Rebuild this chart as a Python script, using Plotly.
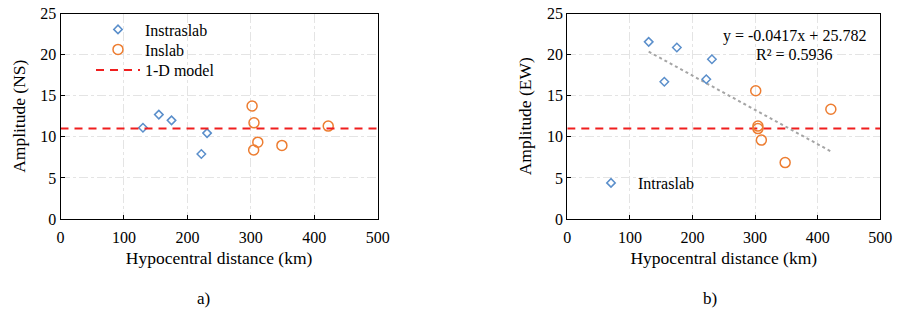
import plotly.graph_objects as go

# ---- data ----
intra_dist = [130, 155, 175, 222, 231]
intra_ns = [11.1, 12.7, 12.0, 7.9, 10.45]
intra_ew = [21.55, 16.7, 20.86, 17.0, 19.44]

inslab_dist_ns = [302, 305, 304.5, 311, 349, 422]
inslab_ns = [13.75, 11.7, 8.4, 9.35, 8.95, 11.3]
inslab_dist_ew = [301, 304.5, 304.5, 310, 348, 421]
inslab_ew = [15.6, 11.3, 11.0, 9.6, 6.86, 13.35]

model_amp = 11.0
trend_slope = -0.0417
trend_intercept = 25.782
trend_label = "y = -0.0417x + 25.782"
r2_label = "R² = 0.5936"

x_ticks = [0, 100, 200, 300, 400, 500]
y_ticks = [0, 5, 10, 15, 20, 25]

# ---- styles ----
FONT = "'Liberation Serif', 'Times New Roman', 'DejaVu Serif', serif"
BLUE = "#5B8FCB"
ORANGE = "#ED7D31"
RED = "#F01E1E"
GRAY = "#A5A5A5"
W, H = 899, 319

fig = go.Figure()

# Left panel (NS)
fig.add_trace(go.Scatter(x=intra_dist, y=intra_ns, mode="markers", name="Instraslab",
                         marker=dict(symbol="diamond-open", size=6.5, color=BLUE, line=dict(width=1.5, color=BLUE)),
                         xaxis="x", yaxis="y", legend="legend"))
fig.add_trace(go.Scatter(x=inslab_dist_ns, y=inslab_ns, mode="markers", name="Inslab",
                         marker=dict(symbol="circle-open", size=10, color=ORANGE, line=dict(width=1.5, color=ORANGE)),
                         xaxis="x", yaxis="y", legend="legend3"))
fig.add_trace(go.Scatter(x=[x_ticks[0], x_ticks[-1]], y=[model_amp, model_amp], mode="lines", name="1-D model",
                         line=dict(color=RED, width=2, dash="8px,6px"),
                         xaxis="x", yaxis="y", legend="legend4"))

# Right panel (EW)
all_x = intra_dist + inslab_dist_ew
tx = [min(all_x), max(all_x)]
ty = [trend_slope * v + trend_intercept for v in tx]
fig.add_trace(go.Scatter(x=[x_ticks[0], x_ticks[-1]], y=[model_amp, model_amp], mode="lines",
                         line=dict(color=RED, width=2, dash="8px,6px"), showlegend=False,
                         xaxis="x2", yaxis="y2"))
fig.add_trace(go.Scatter(x=tx, y=ty, mode="lines", showlegend=False,
                         line=dict(color=GRAY, width=2, dash="dot"), xaxis="x2", yaxis="y2"))
fig.add_trace(go.Scatter(x=intra_dist, y=intra_ew, mode="markers", name="Intraslab",
                         marker=dict(symbol="diamond-open", size=6.5, color=BLUE, line=dict(width=1.5, color=BLUE)),
                         xaxis="x2", yaxis="y2", legend="legend2"))
fig.add_trace(go.Scatter(x=inslab_dist_ew, y=inslab_ew, mode="markers", showlegend=False,
                         marker=dict(symbol="circle-open", size=10, color=ORANGE, line=dict(width=1.5, color=ORANGE)),
                         xaxis="x2", yaxis="y2"))

ydom = [1 - 219 / H, 1 - 13.5 / H]

def xaxis_style(dom, anchor):
    return dict(domain=dom, anchor=anchor, range=[x_ticks[0], x_ticks[-1]], tickvals=x_ticks,
                showline=True, linecolor="black", linewidth=1.2, mirror=True, automargin=False,
                ticks="inside", ticklen=4, tickcolor="black", ticklabelstandoff=4,
                showgrid=True, gridcolor="#E4E4E4", griddash="dashdot", gridwidth=1,
                zeroline=False, tickfont=dict(family=FONT, size=16, color="black"),
                title=dict(text="Hypocentral distance (km)", font=dict(family=FONT, size=17.5, color="black"), standoff=6))

def yaxis_style(anchor, title):
    return dict(domain=ydom, anchor=anchor, range=[y_ticks[0], y_ticks[-1]], tickvals=y_ticks,
                showline=True, linecolor="black", linewidth=1.2, mirror=True, automargin=False,
                ticks="inside", ticklen=4, tickcolor="black", ticklabelstandoff=0,
                showgrid=True, gridcolor="#E4E4E4", griddash="dashdot", gridwidth=1,
                zeroline=False, tickfont=dict(family=FONT, size=16, color="black"),
                title=dict(text=title, font=dict(family=FONT, size=17.5, color="black"), standoff=10))

def leg(x, y, iw=30):
    return dict(x=x / W, y=1 - y / H, xanchor="left", yanchor="middle", bgcolor="rgba(0,0,0,0)",
                font=dict(family=FONT, size=16, color="black"), itemwidth=iw)

fig.update_layout(
    width=W, height=H, margin=dict(l=0, r=0, t=0, b=0, autoexpand=False),
    paper_bgcolor="white", plot_bgcolor="white",
    xaxis=xaxis_style([60.5 / W, 377.7 / W], "y"),
    yaxis=yaxis_style("x", "Amplitude (NS)"),
    xaxis2=xaxis_style([567.3 / W, 880.3 / W], "y2"),
    yaxis2=yaxis_style("x2", "Amplitude (EW)"),
    legend=leg(91, 29.5, 44),
    legend3=leg(91, 49.5, 44),
    legend4=leg(91, 70, 44),
    legend2=leg(584, 183, 44),
    annotations=[
        dict(text=trend_label, x=794.6 / W, y=1 - 35.7 / H, xref="paper", yref="paper", showarrow=False,
             font=dict(family=FONT, size=16, color="black"), xanchor="center", yanchor="middle"),
        dict(text=r2_label, x=794.6 / W, y=1 - 54 / H, xref="paper", yref="paper", showarrow=False,
             font=dict(family=FONT, size=16, color="black"), xanchor="center", yanchor="middle"),
        dict(text="a)", x=203 / W, y=1 - 298 / H, xref="paper", yref="paper", showarrow=False,
             font=dict(family=FONT, size=17, color="black"), xanchor="center", yanchor="middle"),
        dict(text="b)", x=710 / W, y=1 - 298 / H, xref="paper", yref="paper", showarrow=False,
             font=dict(family=FONT, size=17, color="black"), xanchor="center", yanchor="middle"),
    ],
)

fig.write_html("out.html", config={"displayModeBar": False},
               post_script="document.body.style.margin='0';")
